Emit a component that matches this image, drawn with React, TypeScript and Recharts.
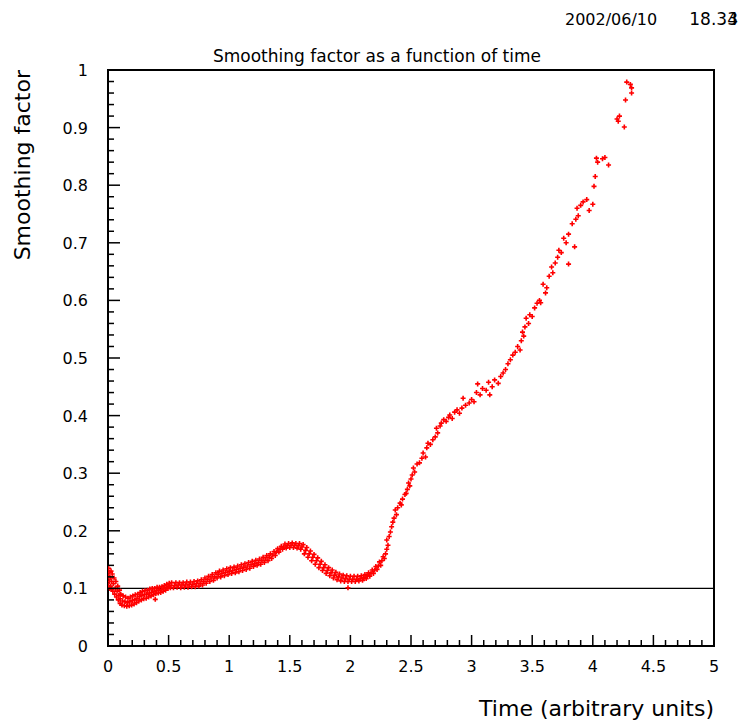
import { ScatterChart, Scatter, XAxis, YAxis, ReferenceLine, ReferenceArea } from 'recharts'

// x ticks every 0.1, labelled every 0.5
const xTicks = [
  0, 0.1, 0.2, 0.3, 0.4, 0.5, 0.6, 0.7, 0.8, 0.9, 1, 1.1, 1.2, 1.3, 1.4, 1.5, 1.6, 1.7, 1.8, 1.9,
  2, 2.1, 2.2, 2.3, 2.4, 2.5, 2.6, 2.7, 2.8, 2.9, 3, 3.1, 3.2, 3.3, 3.4, 3.5, 3.6, 3.7, 3.8, 3.9,
  4, 4.1, 4.2, 4.3, 4.4, 4.5, 4.6, 4.7, 4.8, 4.9, 5,
]
const xLabels = [0, 0.5, 1, 1.5, 2, 2.5, 3, 3.5, 4, 4.5, 5]

// y ticks every 0.02, labelled every 0.1
const yTicks = [
  0, 0.02, 0.04, 0.06, 0.08, 0.1, 0.12, 0.14, 0.16, 0.18, 0.2, 0.22, 0.24, 0.26, 0.28, 0.3,
  0.32, 0.34, 0.36, 0.38, 0.4, 0.42, 0.44, 0.46, 0.48, 0.5, 0.52, 0.54, 0.56, 0.58, 0.6,
  0.62, 0.64, 0.66, 0.68, 0.7, 0.72, 0.74, 0.76, 0.78, 0.8, 0.82, 0.84, 0.86, 0.88, 0.9,
  0.92, 0.94, 0.96, 0.98, 1,
]
const yLabels = [0, 0.1, 0.2, 0.3, 0.4, 0.5, 0.6, 0.7, 0.8, 0.9, 1]

const threshold = 0.1

// [time, smoothing factor] — dense early band
const earlyPoints: [number, number][] = [
  [0, 0.105], [0, 0.122], [0.005, 0.135], [0.01, 0.112], [0.01, 0.128], [0.015, 0.1],
  [0.02, 0.104], [0.02, 0.118], [0.025, 0.13], [0.03, 0.098], [0.03, 0.112], [0.035, 0.125],
  [0.04, 0.095], [0.045, 0.108], [0.05, 0.118], [0.055, 0.09], [0.06, 0.1], [0.065, 0.112],
  [0.07, 0.085], [0.075, 0.095], [0.08, 0.104], [0.085, 0.08], [0.09, 0.088], [0.095, 0.097],
  [0.1, 0.074], [0.1, 0.082], [0.105, 0.09], [0.115, 0.071], [0.12, 0.078], [0.125, 0.087],
  [0.135, 0.07], [0.14, 0.077], [0.145, 0.085], [0.155, 0.069], [0.16, 0.075], [0.165, 0.083],
  [0.175, 0.07], [0.18, 0.077], [0.185, 0.085], [0.195, 0.071], [0.2, 0.079], [0.205, 0.087],
  [0.215, 0.073], [0.22, 0.08], [0.225, 0.089], [0.235, 0.075], [0.24, 0.083], [0.245, 0.09],
  [0.255, 0.078], [0.26, 0.086], [0.265, 0.093], [0.275, 0.08], [0.28, 0.088], [0.285, 0.095],
  [0.295, 0.082], [0.3, 0.089], [0.305, 0.096], [0.315, 0.083], [0.32, 0.09], [0.325, 0.097],
  [0.335, 0.085], [0.34, 0.092], [0.345, 0.099], [0.355, 0.087], [0.36, 0.093], [0.365, 0.1],
  [0.375, 0.089], [0.38, 0.095], [0.385, 0.1], [0.39, 0.081], [0.395, 0.091], [0.4, 0.096],
  [0.405, 0.102], [0.415, 0.092], [0.42, 0.097], [0.425, 0.102], [0.435, 0.093], [0.44, 0.098],
  [0.445, 0.103], [0.455, 0.095], [0.46, 0.1], [0.465, 0.105], [0.475, 0.097], [0.48, 0.102],
  [0.485, 0.107], [0.495, 0.1], [0.5, 0.104], [0.505, 0.109], [0.515, 0.101], [0.52, 0.105],
  [0.525, 0.11], [0.54, 0.101], [0.55, 0.105], [0.56, 0.11], [0.57, 0.102], [0.58, 0.106],
  [0.59, 0.11], [0.6, 0.101], [0.61, 0.106], [0.62, 0.11], [0.63, 0.102], [0.64, 0.106],
  [0.65, 0.111], [0.66, 0.102], [0.67, 0.107], [0.68, 0.111], [0.69, 0.103], [0.7, 0.107],
  [0.71, 0.112], [0.72, 0.103], [0.73, 0.108], [0.74, 0.113], [0.75, 0.104], [0.76, 0.109],
  [0.77, 0.115], [0.78, 0.106], [0.79, 0.112], [0.8, 0.118], [0.81, 0.109], [0.82, 0.115],
  [0.83, 0.121], [0.84, 0.112], [0.85, 0.118], [0.86, 0.124], [0.87, 0.114], [0.88, 0.12],
  [0.89, 0.127], [0.9, 0.118], [0.91, 0.124], [0.92, 0.13], [0.93, 0.12], [0.94, 0.126],
  [0.95, 0.132], [0.96, 0.122], [0.97, 0.128], [0.98, 0.134], [0.99, 0.124], [1, 0.13],
  [1.01, 0.136], [1.02, 0.126], [1.03, 0.131], [1.04, 0.137], [1.05, 0.127], [1.06, 0.133],
  [1.07, 0.139], [1.08, 0.129], [1.09, 0.135], [1.1, 0.141], [1.11, 0.131], [1.12, 0.137],
  [1.13, 0.143], [1.14, 0.133], [1.15, 0.139], [1.16, 0.145], [1.17, 0.135], [1.18, 0.141],
  [1.19, 0.147], [1.2, 0.138], [1.21, 0.143], [1.22, 0.149], [1.23, 0.14], [1.24, 0.145],
  [1.25, 0.151], [1.26, 0.142], [1.27, 0.148], [1.28, 0.154], [1.29, 0.145], [1.3, 0.151],
  [1.31, 0.157], [1.32, 0.148], [1.33, 0.154], [1.34, 0.16], [1.35, 0.152], [1.36, 0.158],
  [1.37, 0.164], [1.38, 0.157], [1.39, 0.163], [1.4, 0.169], [1.41, 0.163], [1.42, 0.168],
  [1.43, 0.173], [1.44, 0.168], [1.45, 0.172], [1.46, 0.177], [1.47, 0.17], [1.48, 0.174],
  [1.49, 0.178], [1.5, 0.171], [1.51, 0.175], [1.52, 0.179], [1.53, 0.171], [1.54, 0.175],
  [1.55, 0.178], [1.56, 0.17], [1.57, 0.174], [1.58, 0.178], [1.59, 0.168], [1.6, 0.172],
  [1.61, 0.176], [1.62, 0.16], [1.63, 0.166], [1.64, 0.171], [1.65, 0.154], [1.66, 0.16],
  [1.67, 0.165], [1.68, 0.148], [1.69, 0.154], [1.7, 0.159], [1.71, 0.142], [1.72, 0.148],
  [1.73, 0.153], [1.74, 0.136], [1.75, 0.142], [1.76, 0.147], [1.77, 0.131], [1.78, 0.136],
  [1.79, 0.141], [1.8, 0.126], [1.81, 0.131], [1.82, 0.136], [1.83, 0.122], [1.84, 0.127],
  [1.85, 0.132], [1.86, 0.118], [1.87, 0.123], [1.88, 0.128], [1.89, 0.115], [1.9, 0.12],
  [1.91, 0.125], [1.92, 0.113], [1.93, 0.118], [1.94, 0.123], [1.95, 0.112], [1.96, 0.117],
  [1.97, 0.122], [1.98, 0.101], [1.98, 0.112], [1.99, 0.116], [2, 0.121], [2.01, 0.112],
  [2.02, 0.116], [2.03, 0.121], [2.04, 0.112], [2.05, 0.116], [2.06, 0.121], [2.07, 0.113],
  [2.08, 0.117], [2.09, 0.122], [2.1, 0.114], [2.11, 0.119], [2.12, 0.124], [2.13, 0.117],
  [2.14, 0.122], [2.15, 0.127], [2.16, 0.121], [2.17, 0.126], [2.18, 0.132], [2.19, 0.126],
  [2.2, 0.132], [2.21, 0.138], [2.22, 0.133], [2.23, 0.139], [2.24, 0.146], [2.25, 0.14],
  [2.26, 0.148], [2.27, 0.155],
]

// sparser rise after t ~ 2.3
const latePoints: [number, number][] = [
  [2.28, 0.152], [2.29, 0.16], [2.3, 0.168], [2.31, 0.175], [2.3, 0.184], [2.32, 0.19],
  [2.33, 0.198], [2.34, 0.207], [2.35, 0.215], [2.36, 0.222], [2.37, 0.236], [2.38, 0.228],
  [2.39, 0.24], [2.41, 0.248], [2.42, 0.245], [2.43, 0.255], [2.45, 0.263], [2.46, 0.265],
  [2.47, 0.272], [2.48, 0.283], [2.49, 0.278], [2.5, 0.29], [2.51, 0.297], [2.52, 0.309],
  [2.53, 0.302], [2.55, 0.316], [2.57, 0.318], [2.59, 0.326], [2.6, 0.335], [2.62, 0.328],
  [2.63, 0.344], [2.64, 0.352], [2.66, 0.35], [2.68, 0.358], [2.7, 0.363], [2.71, 0.378],
  [2.72, 0.37], [2.74, 0.382], [2.75, 0.387], [2.77, 0.393], [2.79, 0.39], [2.81, 0.397],
  [2.82, 0.401], [2.84, 0.395], [2.86, 0.406], [2.88, 0.41], [2.9, 0.404], [2.92, 0.413],
  [2.93, 0.43], [2.95, 0.418], [2.98, 0.422], [3, 0.428], [3.02, 0.424], [3.04, 0.44],
  [3.05, 0.455], [3.07, 0.436], [3.09, 0.447], [3.12, 0.444], [3.14, 0.458], [3.15, 0.436],
  [3.17, 0.45], [3.19, 0.462], [3.22, 0.456], [3.24, 0.468], [3.26, 0.474], [3.28, 0.48],
  [3.3, 0.49], [3.32, 0.497], [3.34, 0.505], [3.36, 0.51], [3.38, 0.52], [3.4, 0.514],
  [3.41, 0.53], [3.42, 0.545], [3.43, 0.538], [3.44, 0.554], [3.45, 0.569], [3.47, 0.56],
  [3.48, 0.575], [3.5, 0.572], [3.52, 0.587], [3.54, 0.595], [3.56, 0.6], [3.57, 0.596],
  [3.59, 0.628], [3.61, 0.613], [3.62, 0.622], [3.64, 0.642], [3.66, 0.658], [3.67, 0.648],
  [3.69, 0.665], [3.71, 0.675], [3.72, 0.687], [3.74, 0.683], [3.76, 0.708], [3.78, 0.7],
  [3.8, 0.663], [3.8, 0.715], [3.83, 0.733], [3.85, 0.693], [3.86, 0.741], [3.88, 0.747],
  [3.87, 0.76], [3.9, 0.765], [3.92, 0.771], [3.95, 0.775], [3.97, 0.756], [4, 0.767],
  [4.01, 0.798], [4.02, 0.815], [4.03, 0.847], [4.04, 0.84], [4.08, 0.846], [4.1, 0.848],
  [4.13, 0.835], [4.2, 0.915], [4.22, 0.92], [4.21, 0.911], [4.26, 0.901], [4.27, 0.948],
  [4.28, 0.979], [4.31, 0.975], [4.32, 0.969], [4.32, 0.96],
]

const toRows = (pts: [number, number][]) => pts.map(([t, v]) => ({ t, v }))

const W = 743
const H = 725
const FONT = '"DejaVu Sans", Verdana, sans-serif'

const Cross = (props: any) => {
  const { cx, cy } = props
  if (cx == null || cy == null) return null
  return (
    <path
      d={`M${cx - 2.5},${cy}H${cx + 2.5}M${cx},${cy - 2.5}V${cy + 2.5}`}
      stroke="#ff0000"
      strokeWidth={1.6}
      fill="none"
    />
  )
}

const isMajor = (v: number, labels: number[]) => labels.some((l) => Math.abs(l - v) < 1e-6)

const XTick = (props: any) => {
  const { x, y, payload } = props
  const major = isMajor(payload.value, xLabels)
  return (
    <g>
      <line x1={x} x2={x} y1={y} y2={y - (major ? 11 : 6)} stroke="#000" strokeWidth={1.5} />
      {major && (
        <text x={x} y={y + 26} textAnchor="middle" fontSize={16} fontFamily={FONT} fill="#000">
          {String(payload.value)}
        </text>
      )}
    </g>
  )
}

const YTick = (props: any) => {
  const { x, y, payload } = props
  const major = isMajor(payload.value, yLabels)
  return (
    <g>
      <line x1={x} x2={x + (major ? 12 : 6)} y1={y} y2={y} stroke="#000" strokeWidth={1.5} />
      {major && (
        <text x={x - 20} y={y + 6} textAnchor="end" fontSize={16} fontFamily={FONT} fill="#000">
          {String(payload.value)}
        </text>
      )}
    </g>
  )
}

export default function App() {
  return (
    <div style={{ position: 'absolute', left: 0, top: 0, width: W, height: H, background: '#fff' }}>
      <ScatterChart width={W} height={H} margin={{ top: 70, right: 29, bottom: 0, left: 0 }}>
        <XAxis
          type="number"
          dataKey="t"
          domain={[0, 5]}
          ticks={xTicks}
          interval={0}
          tickSize={0}
          tickMargin={0}
          axisLine={false}
          tickLine={false}
          tick={<XTick />}
          height={79}
          allowDataOverflow
        />
        <YAxis
          type="number"
          dataKey="v"
          domain={[0, 1]}
          ticks={yTicks}
          interval={0}
          tickSize={0}
          tickMargin={0}
          axisLine={false}
          tickLine={false}
          tick={<YTick />}
          width={108}
          allowDataOverflow
        />
        <ReferenceArea x1={0} x2={5} y1={0} y2={1} fill="none" stroke="#000" strokeWidth={2} ifOverflow="visible" />
        <ReferenceLine y={threshold} stroke="#000" strokeWidth={1.3} />
        <Scatter data={toRows(earlyPoints)} shape={<Cross />} isAnimationActive={false} />
        <Scatter data={toRows(latePoints)} shape={<Cross />} isAnimationActive={false} />
      </ScatterChart>
      <svg width={W} height={H} style={{ position: 'absolute', left: 0, top: 0, pointerEvents: 'none' }}>
        <g fontFamily={FONT} fill="#000">
          <text x={565} y={25} fontSize={16}>2002/06/10</text>
          {/* last digit overstruck (3 and 4), as in the original printout */}
          <text x={738} y={25} fontSize={17} textAnchor="end">
            18.33<tspan dx="-0.636em">4</tspan>
          </text>
          <text x={377} y={62} fontSize={17} textAnchor="middle">Smoothing factor as a function of time</text>
          <text x={714} y={716} fontSize={22} textAnchor="end">Time (arbitrary units)</text>
          <text x={30} y={70} fontSize={22} textAnchor="end" transform="rotate(-90 30 70)">Smoothing factor</text>
        </g>
      </svg>
    </div>
  )
}
